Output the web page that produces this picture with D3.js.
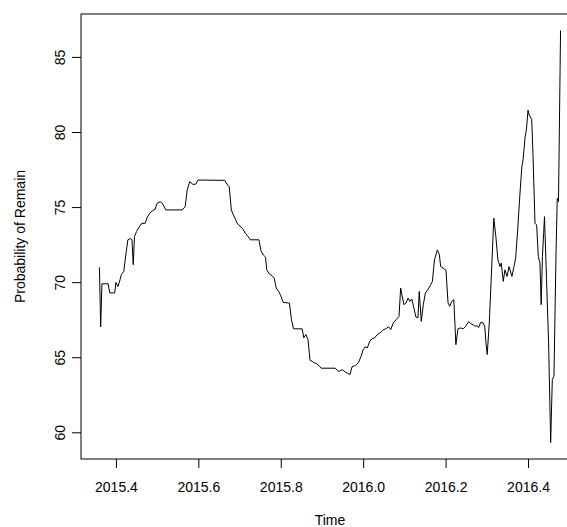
<!DOCTYPE html>
<html>
<head>
<meta charset="utf-8">
<script src="https://cdn.jsdelivr.net/npm/d3@7"></script>
<style>
	body { margin: 0; background: #fff; }
	svg text { font-family: "Liberation Sans", Arial, Helvetica, sans-serif; fill: #000; }
</style>
</head>
<body>
<div id="chart"></div>
<script>
// values (time in fractional years)
const times = [
	2015.360, 2015.363, 2015.366, 2015.381, 2015.385, 2015.397, 2015.400, 2015.405, 2015.410, 2015.413,
	2015.419, 2015.424, 2015.429, 2015.435, 2015.439, 2015.442, 2015.445, 2015.450, 2015.456, 2015.463,
	2015.471, 2015.476, 2015.482, 2015.489, 2015.495, 2015.500, 2015.507, 2015.513, 2015.521, 2015.561,
	2015.568, 2015.573, 2015.579, 2015.587, 2015.594, 2015.599, 2015.664, 2015.671, 2015.675, 2015.680,
	2015.685, 2015.690, 2015.695, 2015.701, 2015.708, 2015.714, 2015.721, 2015.726, 2015.747, 2015.752,
	2015.758, 2015.763, 2015.766, 2015.772, 2015.779, 2015.784, 2015.789, 2015.795, 2015.800, 2015.806,
	2015.821, 2015.826, 2015.831, 2015.852, 2015.856, 2015.861, 2015.866, 2015.871, 2015.876, 2015.881,
	2015.887, 2015.894, 2015.898, 2015.932, 2015.941, 2015.949, 2015.957, 2015.966, 2015.968, 2015.973,
	2015.981, 2015.989, 2015.995, 2016.000, 2016.005, 2016.010, 2016.016, 2016.021, 2016.028, 2016.034,
	2016.041, 2016.047, 2016.054, 2016.062, 2016.067, 2016.073, 2016.080, 2016.087, 2016.091, 2016.094,
	2016.099, 2016.104, 2016.109, 2016.113, 2016.118, 2016.123, 2016.128, 2016.133, 2016.136, 2016.141,
	2016.146, 2016.151, 2016.157, 2016.164, 2016.168, 2016.173, 2016.180, 2016.185, 2016.188, 2016.194,
	2016.201, 2016.206, 2016.210, 2016.215, 2016.220, 2016.225, 2016.230, 2016.236, 2016.243, 2016.249,
	2016.256, 2016.261, 2016.267, 2016.272, 2016.277, 2016.280, 2016.285, 2016.291, 2016.295, 2016.298,
	2016.301, 2016.306, 2016.311, 2016.317, 2016.322, 2016.327, 2016.332, 2016.335, 2016.340, 2016.344,
	2016.349, 2016.354, 2016.361, 2016.366, 2016.370, 2016.375, 2016.380, 2016.385, 2016.388, 2016.393,
	2016.396, 2016.400, 2016.403, 2016.409, 2016.412, 2016.417, 2016.421, 2016.425, 2016.429, 2016.432,
	2016.435, 2016.438, 2016.440, 2016.445, 2016.450, 2016.455, 2016.459, 2016.463, 2016.468, 2016.471,
	2016.474, 2016.479
];
const remain = [
	70.98, 67.02, 69.89, 69.89, 69.28, 69.28, 69.98, 69.71, 70.16, 70.49,
	70.71, 71.82, 72.82, 72.90, 72.82, 71.16, 73.03, 73.37, 73.66, 73.92,
	73.92, 74.32, 74.59, 74.76, 74.85, 75.25, 75.36, 75.25, 74.81, 74.81,
	75.03, 76.14, 76.69, 76.51, 76.53, 76.80, 76.78, 76.47, 76.35, 74.81,
	74.48, 74.19, 73.88, 73.74, 73.53, 73.26, 73.03, 72.82, 72.82, 72.10,
	71.80, 71.67, 70.82, 70.56, 70.42, 70.27, 69.61, 69.38, 69.10, 68.65,
	68.61, 67.50, 66.89, 66.89, 66.29, 66.51, 66.18, 64.80, 64.73, 64.63,
	64.58, 64.40, 64.27, 64.27, 64.05, 64.18, 64.00, 63.87, 63.85, 64.36,
	64.45, 64.67, 65.07, 65.51, 65.69, 65.62, 66.06, 66.22, 66.29, 66.51,
	66.62, 66.79, 66.89, 67.02, 66.84, 67.28, 67.50, 67.72, 69.61, 69.16,
	68.50, 68.61, 68.94, 68.72, 68.88, 68.28, 67.68, 67.62, 69.38, 67.39,
	68.50, 69.28, 69.50, 69.83, 70.05, 71.49, 72.15, 71.82, 71.04, 70.94,
	70.78, 68.61, 68.39, 68.72, 68.83, 65.84, 66.89, 66.95, 66.89, 67.06,
	67.37, 67.24, 67.15, 67.06, 67.10, 66.97, 67.32, 67.28, 67.06, 65.96,
	65.18, 67.28, 70.38, 74.26, 73.03, 71.49, 71.04, 71.27, 70.05, 70.82,
	70.38, 71.04, 70.38, 71.04, 71.60, 73.48, 75.69, 77.68, 78.13, 79.67,
	80.12, 81.45, 81.12, 80.83, 78.57, 73.92, 73.81, 71.71, 71.27, 68.50,
	71.71, 73.26, 74.36, 70.16, 65.96, 59.32, 63.52, 63.74, 71.93, 75.58,
	75.36, 86.76
];
const xTicks = [2015.4, 2015.6, 2015.8, 2016.0, 2016.2, 2016.4];
const yTicks = [60, 65, 70, 75, 80, 85];

const options = {
	w: 567,
	h: 527,
	left: 81,
	right: 579,	// R box runs past the right edge of the picture
	top: 14,
	bottom: 459,
	tickLen: 9,
	fontSize: 14
};

const data = times.map((t, i) => ({ t: t, v: remain[i] }));

// R style axis range: data extent padded by 4 %
const pad = ext => {
	const d = (ext[1] - ext[0]) * 0.04;
	return [ext[0] - d, ext[1] + d];
};

const x = d3.scaleLinear()
	.domain(pad(d3.extent(times)))
	.range([options.left, options.right]);

const y = d3.scaleLinear()
	.domain(pad(d3.extent(remain)))
	.range([options.bottom, options.top]);

const svg = d3.select('#chart')
	.append('svg')
	.attr('width', options.w)
	.attr('height', options.h)
	.attr('viewBox', `0 0 ${options.w} ${options.h}`);

// series
const line = d3.line()
	.x(d => x(d.t))
	.y(d => y(d.v));

svg.append('path')
	.datum(data)
	.attr('d', line)
	.attr('fill', 'none')
	.attr('stroke', '#000')
	.attr('stroke-width', 1)
	.attr('stroke-linejoin', 'round');

// box
svg.append('rect')
	.attr('x', options.left)
	.attr('y', options.top)
	.attr('width', options.right - options.left)
	.attr('height', options.bottom - options.top)
	.attr('fill', 'none')
	.attr('stroke', '#000')
	.attr('stroke-width', 1);

// x axis
const xAxis = svg.append('g')
	.attr('transform', `translate(0, ${options.bottom})`)
	.call(d3.axisBottom(x)
		.tickValues(xTicks)
		.tickFormat(d3.format('.1f'))
		.tickSize(options.tickLen)
		.tickPadding(14));
xAxis.select('.domain').remove();
xAxis.selectAll('line').attr('stroke', '#000');
xAxis.selectAll('text')
	.attr('font-size', options.fontSize)
	.attr('font-family', null)
	.attr('dy', null)
	.attr('y', 33);

// y axis, labels turned like R's las = 0
const yAxis = svg.append('g')
	.attr('transform', `translate(${options.left}, 0)`)
	.call(d3.axisLeft(y)
		.tickValues(yTicks)
		.tickSize(options.tickLen));
yAxis.select('.domain').remove();
yAxis.selectAll('line').attr('stroke', '#000');
yAxis.selectAll('text')
	.attr('font-size', options.fontSize)
	.attr('x', null)
	.attr('dy', null)
	.attr('text-anchor', 'middle')
	.attr('transform', 'translate(-16, 0) rotate(-90)');

// axis titles
svg.append('text')
	.attr('x', (options.left + options.right) / 2)
	.attr('y', 525)
	.attr('text-anchor', 'middle')
	.attr('font-size', options.fontSize)
	.text('Time');

svg.append('text')
	.attr('transform', `translate(25, ${(options.top + options.bottom) / 2}) rotate(-90)`)
	.attr('text-anchor', 'middle')
	.attr('font-size', options.fontSize)
	.text('Probability of Remain');
</script>
</body>
</html>
